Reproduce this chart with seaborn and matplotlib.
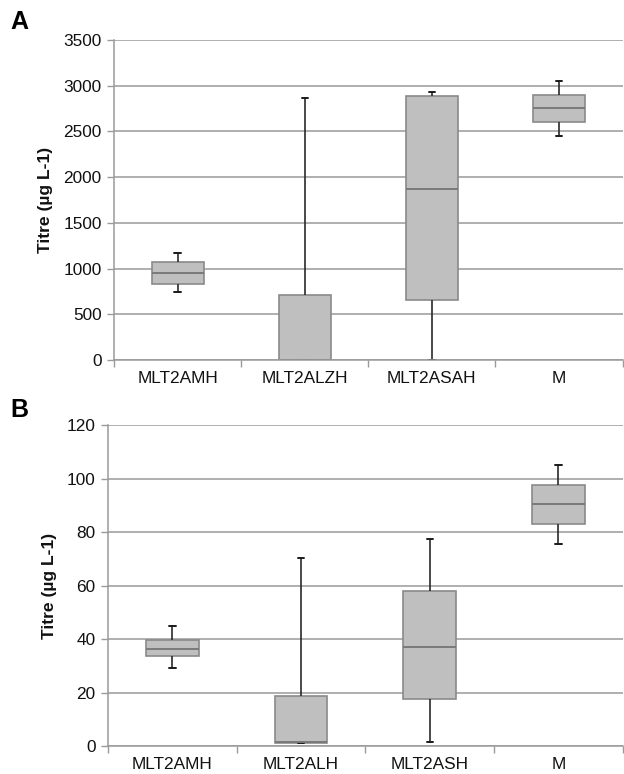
import matplotlib
matplotlib.use("Agg")
import matplotlib.pyplot as plt
import numpy as np
import pandas as pd
import seaborn as sns

# five-number summaries: min, Q1, median, Q3, max
groups_a = ["MLT2AMH", "MLT2ALZH", "MLT2ASAH", "M"]
stats_a = [
    [748, 836, 956, 1073, 1175],
    [0, 0, 0, 712, 2862],
    [5, 654, 1873, 2888, 2928],
    [2455, 2603, 2755, 2902, 3053],
]

groups_b = ["MLT2AMH", "MLT2ALH", "MLT2ASH", "M"]
stats_b = [
    [29.3, 33.6, 36.4, 39.7, 45.0],
    [1.2, 1.3, 1.4, 18.8, 70.2],
    [1.4, 17.5, 37.2, 58.0, 77.4],
    [75.5, 83.0, 90.4, 97.8, 105.3],
]


def long_df(groups, stats):
    rows = []
    for g, s in zip(groups, stats):
        for v in s:
            rows.append({"group": g, "titre": v})
    return pd.DataFrame(rows)


sns.set_theme(style="white")
plt.rcParams["font.family"] = ["Liberation Sans", "DejaVu Sans"]

fig = plt.figure(figsize=(6.24, 7.74), dpi=100)
ax_a = fig.add_axes([0.1827, 0.5349, 0.815, 0.4134])
ax_b = fig.add_axes([0.1731, 0.0362, 0.825, 0.4143])

box_fill = "#bfbfbf"
box_edge = "#8a8a8a"
grid_col = "#9a9a9a"


def draw(ax, groups, stats, ymax, ystep):
    df = long_df(groups, stats)
    sns.boxplot(data=df, x="group", y="titre", order=groups, ax=ax,
                whis=(0, 100), width=0.41, color=box_fill, saturation=1,
                linecolor=box_edge, linewidth=1.2, capwidths=0.05,
                whiskerprops={"color": "#2a2a2a", "linewidth": 1.2},
                capprops={"color": "#1a1a1a", "linewidth": 1.4},
                medianprops={"color": "#7a7a7a", "linewidth": 1.4})
    ax.set_ylim(0, ymax)
    ax.set_xlim(-0.5, 3.5)
    ax.set_yticks(np.arange(0, ymax + 1, ystep))
    ax.yaxis.grid(True, color=grid_col, linewidth=1.1)
    ax.set_axisbelow(True)
    for side in ["top", "right"]:
        ax.spines[side].set_visible(False)
    for side in ["left", "bottom"]:
        ax.spines[side].set_color(grid_col)
        ax.spines[side].set_linewidth(1.1)
    ax.set_xticks([-0.5, 0.5, 1.5, 2.5, 3.5], minor=True)
    ax.tick_params(axis="x", which="major", length=0, pad=8,
                   labelsize=12.4, labelcolor="#111111")
    ax.tick_params(axis="x", which="minor", length=5, width=1,
                   color=grid_col, direction="out", bottom=True)
    ax.tick_params(axis="y", length=5, width=1, color=grid_col,
                   direction="out", left=True, pad=4,
                   labelsize=12.4, labelcolor="#111111")
    ax.set_xlabel("")
    ax.set_ylabel("Titre (µg L-1)", fontsize=12.6, fontweight="bold",
                  color="#111111", labelpad=7)


draw(ax_a, groups_a, stats_a, 3500, 500)
draw(ax_b, groups_b, stats_b, 120, 20)

fig.text(0.016, 1 - 22 / 774, "A", fontsize=18, fontweight="bold",
         color="black", ha="left", va="center")
fig.text(0.016, 1 - 410 / 774, "B", fontsize=18, fontweight="bold",
         color="black", ha="left", va="center")

fig.savefig("out.png", dpi=100)
